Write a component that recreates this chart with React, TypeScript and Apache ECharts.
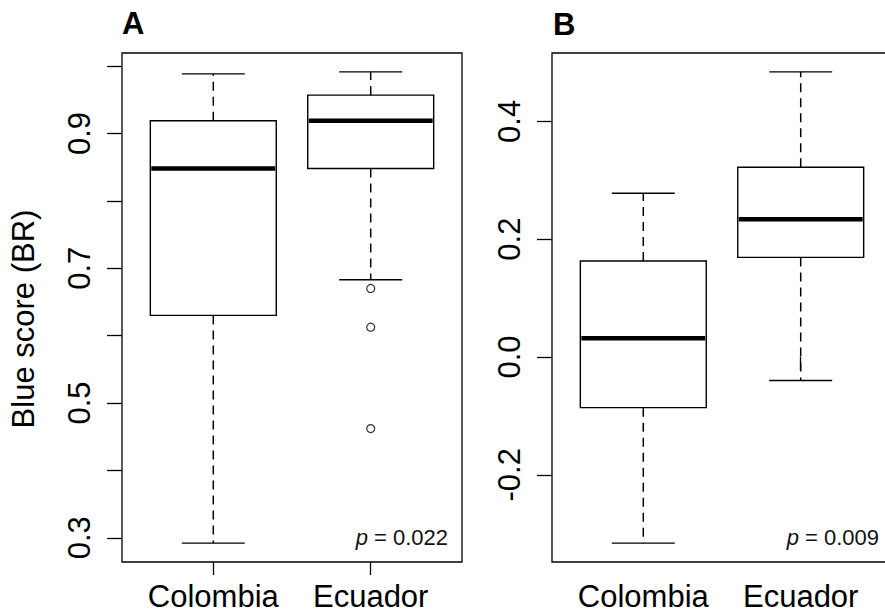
import React, { useEffect, useRef } from "react";
import * as echarts from "echarts";

// Groups compared in both panels
const groups = ["Colombia", "Ecuador"];

// Panel A: blue score (BR) — [lower whisker, Q1, median, Q3, upper whisker]
const colombiaA = [0.292, 0.63, 0.848, 0.919, 0.9885];
const ecuadorA = [0.683, 0.848, 0.919, 0.957, 0.9915];
const ecuadorAOutliers = [0.67, 0.6125, 0.462];

// Panel B — [lower whisker, Q1, median, Q3, upper whisker]
const colombiaB = [-0.316, -0.086, 0.032, 0.163, 0.278];
const ecuadorB = [-0.04, 0.169, 0.234, 0.322, 0.484];

// Axis ticks and labelled ticks
const ticksA = [0.3, 0.4, 0.5, 0.6, 0.7, 0.8, 0.9, 1.0];
const labelsA = [0.3, 0.5, 0.7, 0.9];
const ticksB = [-0.2, 0.0, 0.2, 0.4];
const labelsB = [-0.2, 0.0, 0.2, 0.4];

const pValueA = "0.022";
const pValueB = "0.009";

const FONT = "'Liberation Sans', Arial, Helvetica, sans-serif";

// Data range padded by 4% on both sides
function paddedRange(values: number[]): [number, number] {
  const lo = Math.min(...values);
  const hi = Math.max(...values);
  const pad = (hi - lo) * 0.04;
  return [lo - pad, hi + pad];
}

function renderBox(_params: any, api: any) {
  const x = api.value(0);
  const lo = api.coord([x, api.value(1)]);
  const q1 = api.coord([x, api.value(2)]);
  const med = api.coord([x, api.value(3)]);
  const q3 = api.coord([x, api.value(4)]);
  const hi = api.coord([x, api.value(5)]);
  const bw = api.size([0.8, 0])[0];
  const cw = api.size([0.4, 0])[0];
  const cx = med[0];
  const dashed = { stroke: "#000", lineWidth: 1.5, lineDash: [9, 6], fill: null };
  const solid = { stroke: "#000", lineWidth: 1.4, fill: null };
  return {
    type: "group",
    children: [
      { type: "line", shape: { x1: cx, y1: q3[1], x2: cx, y2: hi[1] }, style: dashed },
      { type: "line", shape: { x1: cx, y1: q1[1], x2: cx, y2: lo[1] }, style: dashed },
      { type: "line", shape: { x1: cx - cw / 2, y1: hi[1], x2: cx + cw / 2, y2: hi[1] }, style: solid },
      { type: "line", shape: { x1: cx - cw / 2, y1: lo[1], x2: cx + cw / 2, y2: lo[1] }, style: solid },
      {
        type: "rect",
        shape: { x: cx - bw / 2, y: q3[1], width: bw, height: q1[1] - q3[1] },
        style: { fill: "#fff", stroke: "#000", lineWidth: 1.4 },
      },
      {
        type: "line",
        shape: { x1: cx - bw / 2 + 1, y1: med[1], x2: cx + bw / 2 - 1, y2: med[1] },
        style: { stroke: "#000", lineWidth: 4.5 },
      },
    ],
  };
}

function makeXAxis(gridIndex: number) {
  return {
    type: "value",
    gridIndex,
    min: 0.42,
    max: 2.58,
    axisLine: { show: false },
    splitLine: { show: false },
    axisTick: {
      show: true,
      inside: false,
      length: 13,
      customValues: [1, 2],
      lineStyle: { color: "#000", width: 1.3 },
    },
    axisLabel: {
      customValues: [1, 2],
      margin: 19,
      fontFamily: FONT,
      fontSize: 31,
      color: "#000",
      formatter: (v: number) => groups[Math.round(v) - 1] ?? "",
    },
  };
}

function makeYAxis(gridIndex: number, range: [number, number], ticks: number[], labels: number[]) {
  return {
    type: "value",
    gridIndex,
    min: range[0],
    max: range[1],
    axisLine: { show: false },
    splitLine: { show: false },
    axisTick: {
      show: true,
      inside: false,
      length: 15,
      customValues: ticks,
      lineStyle: { color: "#000", width: 1.3 },
    },
    axisLabel: {
      customValues: labels,
      rotate: 90,
      margin: 27,
      fontFamily: FONT,
      fontSize: 31,
      color: "#000",
      formatter: (v: number) => v.toFixed(1),
    },
  };
}

function pText(x: number, value: string) {
  return {
    type: "text",
    x,
    y: 537,
    style: {
      text: "{i|p} = " + value,
      rich: { i: { fontStyle: "italic", fontFamily: FONT, fontSize: 22, fill: "#111" } },
      fontFamily: FONT,
      fontSize: 22,
      fill: "#111",
      textAlign: "right",
      textVerticalAlign: "middle",
    },
  };
}

export default function App() {
  const ref = useRef<HTMLDivElement>(null);

  useEffect(() => {
    if (!ref.current) return;
    const chart = echarts.init(ref.current, null, { renderer: "svg" });

    const rangeA = paddedRange([...colombiaA, ...ecuadorA, ...ecuadorAOutliers]);
    const rangeB = paddedRange([...colombiaB, ...ecuadorB]);

    const gridStyle = {
      show: true,
      borderColor: "#000",
      borderWidth: 1.3,
      backgroundColor: "transparent",
      containLabel: false,
      outerBoundsMode: "none",
    };

    chart.setOption({
      animation: false,
      backgroundColor: "#fff",
      grid: [
        { ...gridStyle, left: 122, top: 53, width: 340, height: 509 },
        { ...gridStyle, left: 552, top: 53, width: 340, height: 509 },
      ],
      xAxis: [makeXAxis(0), makeXAxis(1)],
      yAxis: [
        makeYAxis(0, rangeA, ticksA, labelsA),
        makeYAxis(1, rangeB, ticksB, labelsB),
      ],
      series: [
        {
          type: "custom",
          xAxisIndex: 0,
          yAxisIndex: 0,
          renderItem: renderBox,
          encode: { x: 0, y: [1, 2, 3, 4, 5] },
          data: [
            [1, ...colombiaA],
            [2, ...ecuadorA],
          ],
        },
        {
          type: "scatter",
          xAxisIndex: 0,
          yAxisIndex: 0,
          symbol: "circle",
          symbolSize: 8,
          itemStyle: { color: "#fff", borderColor: "#000", borderWidth: 1.2 },
          data: ecuadorAOutliers.map((v) => [2, v]),
        },
        {
          type: "custom",
          xAxisIndex: 1,
          yAxisIndex: 1,
          renderItem: renderBox,
          encode: { x: 0, y: [1, 2, 3, 4, 5] },
          data: [
            [1, ...colombiaB],
            [2, ...ecuadorB],
          ],
        },
      ],
      graphic: [
        {
          type: "text",
          x: 122,
          y: 23,
          style: {
            text: "A",
            fontFamily: FONT,
            fontWeight: "bold",
            fontSize: 31,
            fill: "#000",
            textAlign: "left",
            textVerticalAlign: "middle",
          },
        },
        {
          type: "text",
          x: 553,
          y: 24,
          style: {
            text: "B",
            fontFamily: FONT,
            fontWeight: "bold",
            fontSize: 31,
            fill: "#000",
            textAlign: "left",
            textVerticalAlign: "middle",
          },
        },
        {
          type: "text",
          x: 23,
          y: 319,
          rotation: Math.PI / 2,
          style: {
            text: "Blue score (BR)",
            fontFamily: FONT,
            fontSize: 31,
            fill: "#000",
            textAlign: "center",
            textVerticalAlign: "middle",
          },
        },
        pText(448, pValueA),
        pText(879, pValueB),
      ],
    });

    return () => chart.dispose();
  }, []);

  return (
    <div
      ref={ref}
      style={{ position: "fixed", left: 0, top: 0, width: 885, height: 616 }}
    />
  );
}
